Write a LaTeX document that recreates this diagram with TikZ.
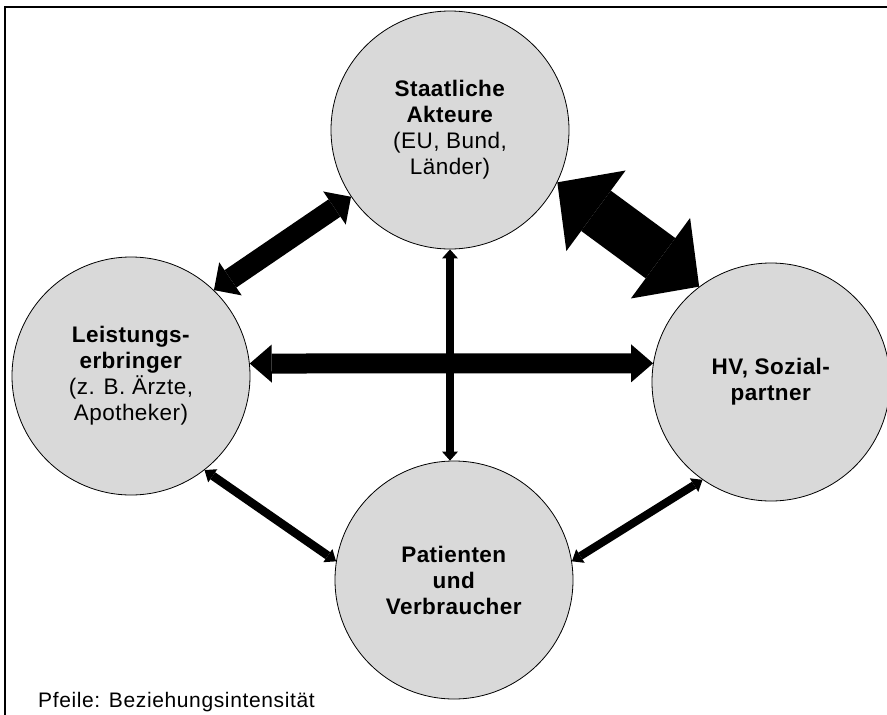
\documentclass[tikz,border=0pt]{standalone}
\usepackage{fontspec}
\setmainfont{Liberation Sans}
\usetikzlibrary{arrows.meta}
\definecolor{actorfill}{RGB}{217,217,217}
\begin{document}
\begin{tikzpicture}[x=1pt,y=-1pt,
  actor/.style={circle, draw=black, line width=0.8pt, fill=actorfill,
    minimum size=238pt, inner sep=0pt, align=center,
    font=\fontsize{22.5}{26}\selectfont\addfontfeatures{LetterSpace=2}},
  link/.style n args={3}{line width=#1,
    {Triangle[line width=0pt,width=#2,length=#3]}-{Triangle[line width=0pt,width=#2,length=#3]}},
  frameline/.style={line width=2pt}
]
\useasboundingbox (0,0) rectangle (887,715);
\clip (0,0) rectangle (887,715);

% open frame: left and top edges
\draw[frameline] (5,715) -- (5,7) -- (887,7);

% actors
\node[actor] (st) at (450,130) {\textbf{Staatliche}\\\textbf{Akteure}\\(EU, Bund,\\Länder)};
\node[actor] (ls) at (131,376) {\textbf{Leistungs-}\\\textbf{erbringer}\\(z. B. Ärzte,\\Apotheker)};
\node[actor] (hv) at (771,382) {\textbf{HV, Sozial-}\\\textbf{partner}};
\node[actor] (pv) at (454,580) {\textbf{Patienten}\\\textbf{und}\\\textbf{Verbraucher}};

% relations, thickness = intensity
\draw[link={50pt}{100pt}{48pt}] (st.-26) -- (hv.127.5);
\draw[link={21pt}{40pt}{20pt}] (st.-146) -- (ls.46.6);
\draw[link={20pt}{38pt}{22pt}] (ls.6.7) -- (hv.171);
\draw[link={8pt}{16pt}{9pt}] (st.south) -- (st.south |- pv.north);
\draw[link={8.5pt}{16pt}{10pt}] (ls.-52.5) -- (pv.171.7);
\draw[link={8pt}{16pt}{10pt}] (hv.-125) -- (pv.9.5);

% legend
\node[anchor=base west, inner sep=0pt,
  font=\fontsize{21}{24}\selectfont\addfontfeatures{LetterSpace=3}] (note) at (38,707) {Pfeile: Beziehungsintensität};
\end{tikzpicture}
\end{document}
